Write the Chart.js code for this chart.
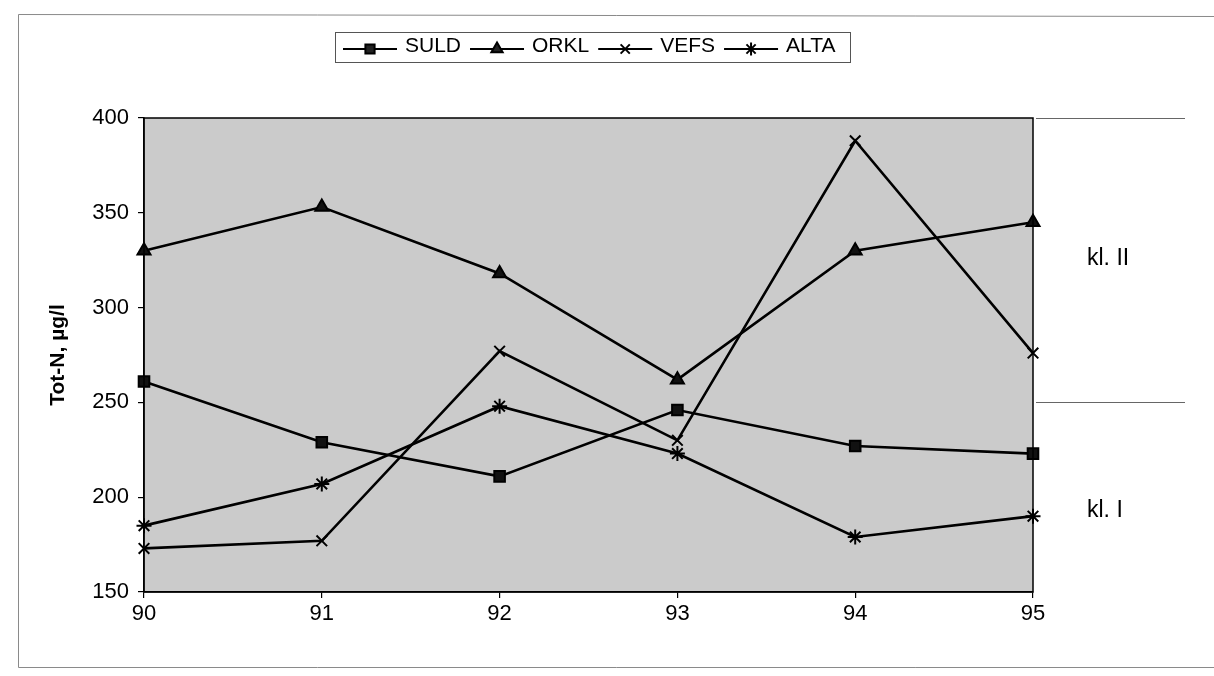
<!DOCTYPE html>
<html>
<head>
<meta charset="utf-8">
<script src="https://cdn.jsdelivr.net/npm/chart.js@4/dist/chart.umd.min.js"></script>
<style>
  html, body { margin: 0; padding: 0; background: #ffffff; }
  #wrap { position: relative; width: 1214px; height: 676px; }
</style>
</head>
<body>
<div id="wrap"><canvas id="c" width="1214" height="676"></canvas></div>
<script>
// ---- data ----
const years = ['90', '91', '92', '93', '94', '95'];
const suld = [261, 229, 211, 246, 227, 223];
const orkl = [330, 353, 318, 262, 330, 345];
const vefs = [173, 177, 277, 230, 388, 276];
const alta = [185, 207, 248, 223, 179, 190];
const yTicks = [150, 200, 250, 300, 350, 400];
const classBounds = [400, 250];
const classLabels = [{ text: 'kl. II', value: 326 }, { text: 'kl. I', value: 193 }];
const yTitle = 'Tot-N, µg/l';

const FONT = "'Liberation Sans', Arial, sans-serif";

function ds(label, data, style) {
  return {
    label: label, data: data,
    borderColor: '#000', backgroundColor: '#000',
    borderWidth: 2.6, tension: 0,
    pointStyle: style, pointRadius: 7.5, pointHoverRadius: 7.5,
    pointBorderWidth: 2, pointBorderColor: '#000', pointBackgroundColor: '#111'
  };
}

const decor = {
  id: 'decor',
  beforeDraw(chart) {
    const ctx = chart.ctx, a = chart.chartArea;
    ctx.save();
    ctx.fillStyle = '#fff';
    ctx.fillRect(0, 0, chart.width, chart.height);
    // outer frame
    ctx.strokeStyle = '#8a8a8a';
    ctx.lineWidth = 1;
    ctx.beginPath();
    ctx.moveTo(1214, 16.5); ctx.lineTo(18.5, 14.5); ctx.lineTo(18.5, 667.5); ctx.lineTo(1214, 667.5);
    ctx.stroke();
    // plot background
    ctx.fillStyle = '#cbcbcb';
    ctx.fillRect(a.left, a.top, a.right - a.left, a.bottom - a.top);
    ctx.restore();
  },
  afterDraw(chart) {
    const ctx = chart.ctx, a = chart.chartArea, ys = chart.scales.y;
    ctx.save();
    // plot border
    ctx.strokeStyle = '#000';
    ctx.lineWidth = 1.5;
    ctx.strokeRect(a.left, a.top, a.right - a.left, a.bottom - a.top);
    // class boundaries
    ctx.strokeStyle = '#666';
    ctx.lineWidth = 1;
    classBounds.forEach(v => {
      const y = Math.round(ys.getPixelForValue(v)) + 0.5;
      ctx.beginPath(); ctx.moveTo(a.right + 3, y); ctx.lineTo(1185, y); ctx.stroke();
    });
    ctx.fillStyle = '#000';
    ctx.font = '23px ' + FONT;
    ctx.textBaseline = 'middle';
    ctx.textAlign = 'left';
    classLabels.forEach(c => ctx.fillText(c.text, 1087, ys.getPixelForValue(c.value)));
    // legend
    const lx0 = 335, ly0 = 32, lx1 = 850, ly1 = 62;
    ctx.strokeStyle = '#555';
    ctx.lineWidth = 1;
    ctx.strokeRect(lx0 + 0.5, ly0 + 0.5, lx1 - lx0, ly1 - ly0);
    ctx.font = '21px ' + FONT;
    let x = 343;
    const yc = 46;
    chart.data.datasets.forEach(d => {
      ctx.strokeStyle = '#000';
      ctx.fillStyle = '#222';
      ctx.lineWidth = 2;
      ctx.beginPath(); ctx.moveTo(x, yc + 3); ctx.lineTo(x + 54, yc + 3); ctx.stroke();
      Chart.helpers.drawPoint(ctx, {
        pointStyle: d.pointStyle, radius: 6.5, borderWidth: 2, rotation: 0
      }, x + 27, yc + 3);
      ctx.fillStyle = '#000';
      ctx.fillText(d.label, x + 62, yc);
      x += 62 + ctx.measureText(d.label).width + 9;
    });
    ctx.restore();
  }
};

new Chart(document.getElementById('c'), {
  type: 'line',
  data: {
    labels: years,
    datasets: [
      ds('SULD', suld, 'rect'),
      ds('ORKL', orkl, 'triangle'),
      ds('VEFS', vefs, 'crossRot'),
      ds('ALTA', alta, 'star')
    ]
  },
  options: {
    responsive: false,
    animation: false,
    events: [],
    layout: { padding: { top: 118, right: 181, bottom: 0, left: 0 } },
    plugins: { legend: { display: false }, tooltip: { enabled: false } },
    scales: {
      x: {
        type: 'category',
        offset: false,
        grid: { drawOnChartArea: false, drawTicks: true, tickLength: 6, color: '#000', lineWidth: 1.2 },
        border: { display: true, color: '#000', width: 1.5 },
        ticks: { color: '#000', font: { family: FONT, size: 22 }, padding: 3, maxRotation: 0 },
        afterFit(s) { s.height = 84; }
      },
      y: {
        min: 150, max: 400,
        afterBuildTicks(s) { s.ticks = yTicks.map(v => ({ value: v })); },
        grid: { drawOnChartArea: false, drawTicks: true, tickLength: 6, color: '#000', lineWidth: 1.2 },
        border: { display: true, color: '#000', width: 1.5 },
        ticks: { color: '#000', font: { family: FONT, size: 22 }, padding: 9 },
        title: {
          display: true, text: yTitle, color: '#000',
          font: { family: FONT, size: 21, weight: 'bold' },
          padding: { top: 46, bottom: 0 }
        },
        afterFit(s) { s.width = 144; }
      }
    }
  },
  plugins: [decor]
});
</script>
</body>
</html>
